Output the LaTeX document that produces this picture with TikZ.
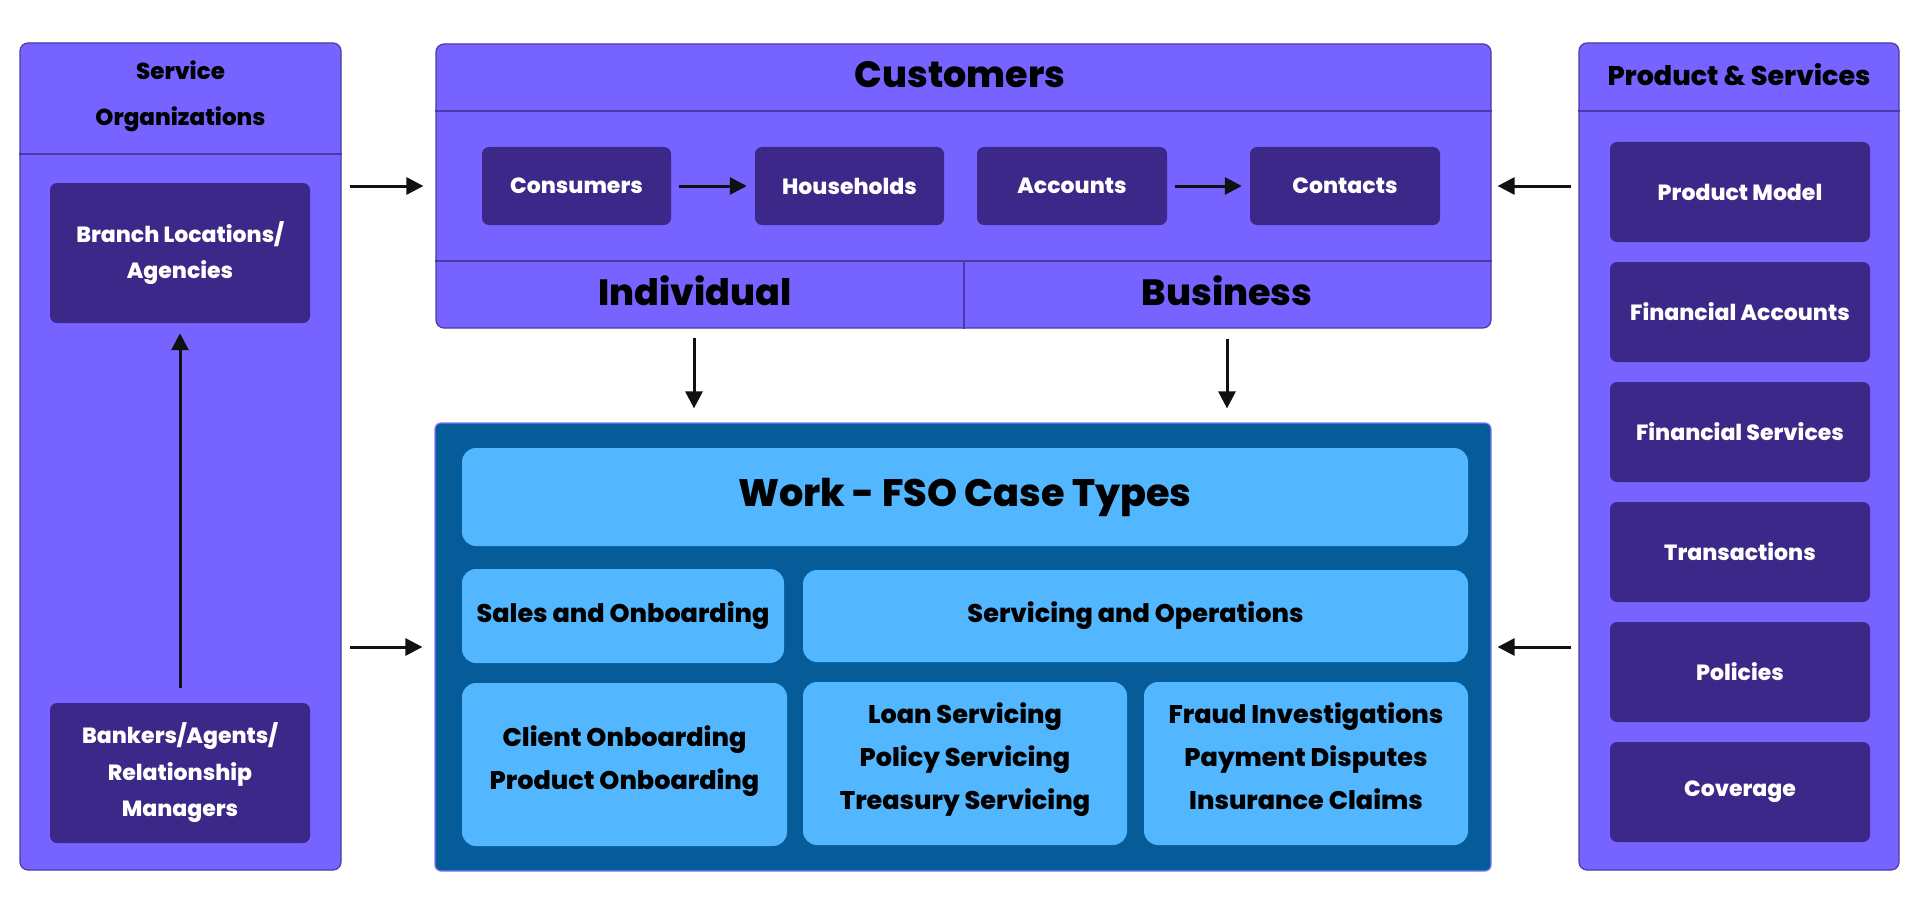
\documentclass[tikz,border=0pt]{standalone}
\usepackage{fontspec}
\setmainfont{Poppins}[BoldFont={Poppins ExtraBold}]
\usetikzlibrary{arrows.meta,calc}
\definecolor{panelfill}{HTML}{7763FF}
\definecolor{paneldraw}{HTML}{4A3CA6}
\definecolor{darkbox}{HTML}{3B2888}
\definecolor{workfill}{HTML}{065C98}
\definecolor{workdraw}{HTML}{8574FF}
\definecolor{lightbox}{HTML}{52B7FF}
\definecolor{arrowcol}{HTML}{111111}
\tikzset{
  panel/.style={draw=paneldraw, line width=1.2pt, fill=panelfill, rounded corners=8pt, inner sep=0pt},
  divider/.style={draw=paneldraw, line width=1.2pt},
  dbox/.style={fill=darkbox, rounded corners=7pt, inner sep=0pt, minimum width=260pt, text=white, align=center, font=\bfseries\fontsize{22}{36.5}\selectfont},
  lbox/.style={fill=lightbox, rounded corners=14pt, inner sep=0pt},
  ltext/.style={text=black, align=center, inner sep=0pt, font=\bfseries\fontsize{25.5}{43}\selectfont},
  heading/.style={text=black, align=center, inner sep=0pt},
  arr/.style={draw=arrowcol, line width=3pt, -{Triangle[length=17pt,width=17pt]}},
}
\begin{document}
\begin{tikzpicture}[x=1pt,y=-1pt]
\useasboundingbox[fill=white] (0,0) rectangle (1920,915);

% Service Organizations panel
\node[panel, minimum width=321pt, minimum height=827pt] (sorg) at (180.5,456.5) {};
\draw[divider] (sorg.west |- 0,154) -- (sorg.east |- 0,154);
\node[heading, font=\bfseries\fontsize{23}{46}\selectfont] (sorgt) at (180.5,96) {Service\\Organizations};
\node[dbox, minimum height=140pt] (branch) at (180,253) {Branch Locations/\\Agencies};
\node[dbox, minimum height=140pt] (bankers) at (180,773) {Bankers/Agents/\\Relationship\\Managers};

% Customers panel
\node[panel, minimum width=1055pt, minimum height=284pt] (cust) at (963.5,186) {};
\draw[divider] (cust.west |- 0,111) -- (cust.east |- 0,111);
\draw[divider] (cust.west |- 0,261) -- (cust.east |- 0,261);
\draw[divider] (964,261) -- (cust.south -| 964,0);
\node[heading, font=\bfseries\fontsize{36.5}{40}\selectfont] (custt) at (960,75) {Customers};
\node[heading, font=\bfseries\fontsize{36.5}{40}\selectfont] (indiv) at (695,291) {Individual};
\node[heading, font=\bfseries\fontsize{36.5}{40}\selectfont] (busi) at (1227,291) {Business};
\node[dbox, minimum width=189pt, minimum height=78pt] (cons) at (576.5,186) {Consumers};
\node[dbox, minimum width=189pt, minimum height=78pt] (house) at (849.5,186) {Households};
\node[dbox, minimum width=190pt, minimum height=78pt] (acct) at (1072,186) {Accounts};
\node[dbox, minimum width=190pt, minimum height=78pt] (cont) at (1345,186) {Contacts};

% Product & Services panel
\node[panel, minimum width=320pt, minimum height=827pt] (prod) at (1739,456.5) {};
\draw[divider] (prod.west |- 0,111) -- (prod.east |- 0,111);
\node[heading, font=\bfseries\fontsize{27}{30}\selectfont] (prodt) at (1739,75) {Product \& Services};
\node[dbox, minimum height=100pt] (pm) at (1740,192) {Product Model};
\node[dbox, minimum height=100pt] (fa) at (1740,312) {Financial Accounts};
\node[dbox, minimum height=100pt] (fs) at (1740,432) {Financial Services};
\node[dbox, minimum height=100pt] (tr) at (1740,552) {Transactions};
\node[dbox, minimum height=100pt] (po) at (1740,672) {Policies};
\node[dbox, minimum height=100pt] (cv) at (1740,792) {Coverage};

% Work panel
\node[draw=workdraw, line width=1.2pt, fill=workfill, rounded corners=6pt, minimum width=1056pt, minimum height=448pt, inner sep=0pt] (work) at (963,647) {};
\node[lbox, minimum width=1006pt, minimum height=98pt] (wtitle) at (965,497) {};
\node[ltext, font=\bfseries\fontsize{38.2}{40}\selectfont] (wtitlet) at (wtitle.center) {Work - FSO Case Types};
\node[lbox, minimum width=322pt, minimum height=94pt] (sales) at (623,616) {};
\node[ltext] (salest) at (sales.center) {Sales and Onboarding};
\node[lbox, minimum width=665pt, minimum height=92pt] (servops) at (1135.5,616) {};
\node[ltext] (servopst) at (servops.center) {Servicing and Operations};
\node[lbox, minimum width=325pt, minimum height=163pt] (client) at (624.5,764.5) {};
\node[ltext] (clientt) at ([yshift=3pt]client.center) {Client Onboarding\\Product Onboarding};
\node[lbox, minimum width=324pt, minimum height=163pt] (loan) at (965,763.5) {};
\node[ltext] (loant) at ([yshift=4pt]loan.center) {Loan Servicing\\Policy Servicing\\Treasury Servicing};
\node[lbox, minimum width=324pt, minimum height=163pt] (fraud) at (1306,763.5) {};
\node[ltext] (fraudt) at ([yshift=7pt]fraud.center) {Fraud Investigations\\Payment Disputes\\Insurance Claims};

% Connectors
\draw[arr, shorten <=15pt, shorten >=10pt] (bankers.north) -- (branch.south);
\draw[arr, shorten <=8pt, shorten >=8pt] (cons.east) -- (house.west);
\draw[arr, shorten <=8pt, shorten >=8pt] (acct.east) -- (cont.west);
\draw[arr] ([xshift=8pt]sorg.east |- cons.center) -- ([xshift=-12pt]cust.west |- cons.center);
\draw[arr] ([xshift=8pt]sorg.east |- work.west) -- ([xshift=-12pt]work.west);
\draw[arr] ([xshift=-7pt]prod.west |- acct.center) -- ([xshift=6pt]cust.east |- acct.center);
\draw[arr] ([xshift=-7pt]prod.west |- work.east) -- ([xshift=6pt]work.east);
\draw[arr, shorten <=10pt, shorten >=14pt] (694,328) coordinate (indivdown) -- (indivdown |- work.north);
\draw[arr, shorten <=10pt, shorten >=14pt] (busi |- cust.south) -- (busi |- work.north);
\end{tikzpicture}
\end{document}
